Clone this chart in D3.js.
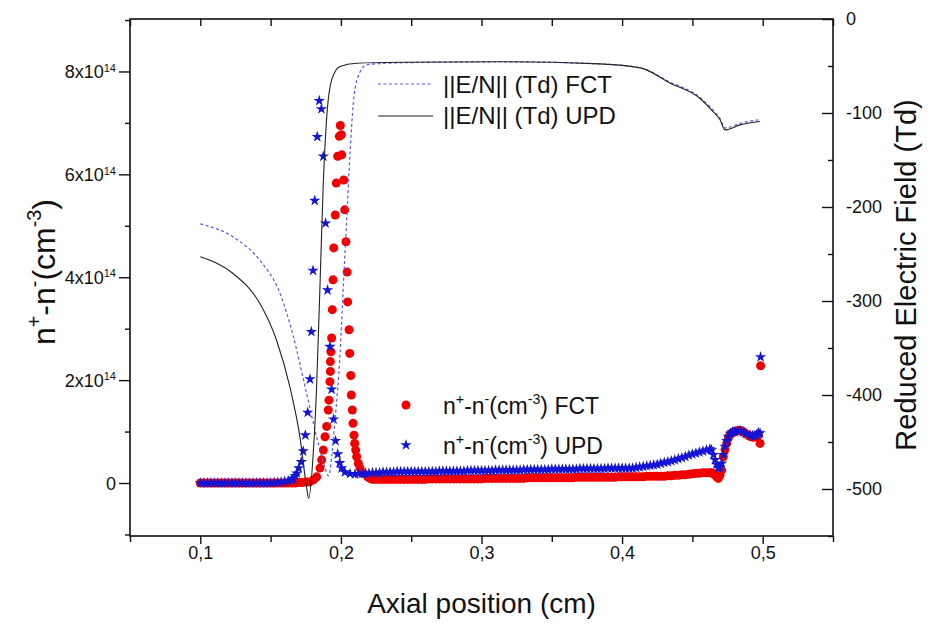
<!DOCTYPE html>
<html><head><meta charset="utf-8">
<script src="https://cdn.jsdelivr.net/npm/d3@7"></script>
<style>
html,body{margin:0;padding:0;background:#fff;}
svg{display:block;font-family:"Liberation Sans",Arial,Helvetica,sans-serif;}
</style></head>
<body><svg id="c" width="931" height="626"></svg>
<script>
// ---------------- DATA ----------------
const xMajorTicks = [0.1, 0.2, 0.3, 0.4, 0.5];
const xMajorLabels = ["0,1", "0,2", "0,3", "0,4", "0,5"];
const xMinorTicks = [0.05, 0.15, 0.25, 0.35, 0.45, 0.55];
const leftMajorTicks = [0, 2, 4, 6, 8];            // x 10^14
const leftMinorTicks = [-1, 1, 3, 5, 7, 9];
const rightMajorTicks = [0, -100, -200, -300, -400, -500];
const rightMajorLabels = ["0", "-100", "-200", "-300", "-400", "-500"];
const rightMinorTicks = [-50, -150, -250, -350, -450, -550];

// Reduced electric field (Td), right axis
const fieldUPD_x = [0.100,0.1235,0.1425,0.1543,0.1638,0.1709,0.1756,0.1771,0.1803,0.1827,0.1851,0.1874,0.1898,0.1934,0.1993,0.2111,0.242,0.313,0.384,0.413,0.434,0.455,0.4647,0.4696,0.4732,0.4839,0.498];
const fieldUPD_v = [-253,-271,-303,-342,-392,-445,-498,-510,-463,-392,-285,-178,-107,-65,-50.5,-47,-46,-45.5,-47.7,-52,-68,-84,-98.5,-107,-118,-112.6,-109];
const fieldFCT_x = [0.100,0.1235,0.1425,0.1567,0.1662,0.1757,0.1828,0.1887,0.1910,0.1958,0.1994,0.2017,0.2041,0.2065,0.2088,0.2123,0.2183,0.242,0.313,0.384,0.413,0.434,0.455,0.4647,0.4696,0.4732,0.4839,0.498];
const fieldFCT_v = [-218,-232,-257,-292,-338,-399,-445,-477,-486,-427,-356,-285,-214,-143,-90,-61,-48.7,-46.6,-45.5,-47.7,-52,-67,-83,-97,-106,-116,-111,-107];

// n+ - n- (x 10^14 cm^-3), FCT (red circles)
const gridStep = 0.0025;
const fctPreStart = 0.100;
const fctPre = [0,0,0,0,0,0,0,0,0,0, 0,0,0,0,0,0,0,0,0,0, 0,0,0,0,0,0,0,0,0.01,0.01,0.02,0.02];
const fctPeak_x = [0.1805,0.1828,0.1851,0.1863,0.1875,0.1887,0.1899,0.1910,0.1915,0.1922,0.1925,0.1925,0.1929,0.1934,0.1939,0.1944,0.1949,0.1960,0.1967,0.1977,0.1989,0.1996,0.2003,0.2006,0.2020,0.2027,0.2036,0.2044,0.2048,0.2058,0.2063,0.2070,0.2074,0.2081,0.2086,0.2093,0.2098,0.2105,0.2112,0.2124,0.2136,0.2159,0.2190,0.2207];
const fctPeak_v = [0.06,0.12,0.29,0.45,0.64,0.90,1.10,1.42,1.61,1.97,2.17,2.36,2.55,2.82,3.37,3.95,4.57,5.21,5.83,6.35,6.74,6.95,6.77,6.38,5.89,5.31,4.69,4.10,3.52,2.98,2.52,2.09,1.71,1.42,1.16,0.93,0.77,0.64,0.51,0.38,0.29,0.19,0.12,0.09];
const fctPostStart = 0.2225;
const fctPost = [0.07,0.07,0.07,0.07,0.07,0.07,0.07,0.07,0.07,0.07,0.07,0.07,0.07,0.07,0.07,0.07,
  0.08,0.08,0.08,0.08,0.08,0.08,0.08,0.08,0.08,0.08,0.08,0.08,0.08,0.08,0.08,0.08,
  0.09,0.09,0.09,0.09,0.09,0.09,0.09,0.09,0.09,0.09,0.09,0.09,
  0.10,0.10,0.10,0.10,0.10,0.10,0.10,0.10,0.10,0.10,0.10,0.10,0.10,0.10,
  0.11,0.11,0.11,0.11,0.11,0.11,0.11,0.11,0.11,0.11,0.11,0.11,
  0.12,0.12,0.12,0.12,0.12,0.12,0.12,0.12,
  0.13,0.13,0.13,0.13,0.13,0.13,
  0.14,0.14,0.15,0.15,0.16,0.16,0.17,0.18,0.19,0.19,0.20,0.20];
const fctEnd_x = [0.4625,0.4637,0.4650,0.4661,0.4672,0.4684,0.4696,0.4708,0.4720,0.4732,0.4744,0.4756,0.4768,0.4779,0.4790,0.4800,0.4815,0.4830,0.4839,0.4850,0.4865,0.4880,0.4897,0.4910,0.4922,0.4933,0.4945,0.4957,0.4969,0.4981,0.4985];
const fctEnd_v = [0.20,0.20,0.18,0.16,0.12,0.09,0.15,0.25,0.51,0.65,0.77,0.88,0.95,0.97,0.99,1.00,1.01,1.02,1.02,1.01,0.99,0.96,0.93,0.91,0.90,0.89,0.90,0.92,0.93,0.77,2.28];

// n+ - n- (x 10^14 cm^-3), UPD (blue stars)
const updPreStart = 0.100;
const updPre = [0,0,0,0,0,0,0,0,0,0, 0,0,0,0,0,0,0,0,0,0, 0,0.01,0.01,0.02,0.03,0.04,0.06];
const updPeak_x = [0.1661,0.1675,0.1686,0.1700,0.1718,0.1732,0.1747,0.1764,0.1780,0.1790,0.1802,0.1814,0.1832,0.1846,0.1861,0.1875,0.1891,0.1905,0.1922,0.1934,0.1948,0.1962,0.1977,0.1991,0.2005,0.2028,0.2065];
const updPeak_v = [0.09,0.14,0.19,0.29,0.41,0.62,0.93,1.37,2.02,2.94,4.13,5.49,6.73,7.43,7.27,6.35,5.05,3.75,2.65,1.82,1.24,0.82,0.56,0.39,0.29,0.21,0.18];
const updPostStart = 0.2100;
const updPost = [0.17,0.18,0.18,0.19,0.19,0.20,0.20,0.20,0.21,0.21,0.21,0.21,0.22,0.22,0.22,0.22,
  0.22,0.22,0.22,0.22,0.22,0.22,0.22,0.22, 0.23,0.23,0.23,0.23,0.23,0.23,0.23,0.23, 0.24,0.24,0.24,0.24,0.24,0.24,0.24,0.24,
  0.25,0.25,0.25,0.25,0.25,0.25,0.25,0.25, 0.26,0.26,0.26,0.26,0.26,0.26,0.26,0.26, 0.27,0.27,0.27,0.27,0.27,0.27,0.27,0.27,
  0.28,0.28,0.28,0.28,0.28,0.28,0.28,0.28, 0.29,0.29,0.29,0.29,0.29,0.29,0.29,0.29,
  0.30,0.31,0.32,0.33,0.34,0.35,0.36,0.38,0.40,0.41,0.43,0.45,0.47,0.49,0.51,0.54,0.56,0.58,0.60,0.62,0.64];
const updEnd_x = [0.4625,0.4637,0.4650,0.4661,0.4672,0.4684,0.4696,0.4708,0.4720,0.4732,0.4744,0.4756,0.4770,0.4785,0.4803,0.4820,0.4839,0.4860,0.4880,0.4910,0.4927,0.4945,0.4957,0.4969,0.4981,0.4985];
const updEnd_v = [0.66,0.64,0.55,0.45,0.36,0.29,0.31,0.38,0.55,0.71,0.82,0.90,0.96,0.99,1.00,1.01,1.02,0.99,0.96,0.93,0.92,0.91,0.94,0.98,0.97,2.45];

const legendLines = ["||E/N|| (Td) FCT", "||E/N|| (Td) UPD"];
const legendMarkers = ["FCT", "UPD"];

// ---------------- BUILD ----------------
const gridSeries = (start, vals) => vals.map((v, i) => ({x: +(start + i * gridStep).toFixed(5), v}));
const pairSeries = (xs, vs) => xs.map((x, i) => ({x, v: vs[i]}));
const fct = [].concat(gridSeries(fctPreStart, fctPre), pairSeries(fctPeak_x, fctPeak_v), gridSeries(fctPostStart, fctPost), pairSeries(fctEnd_x, fctEnd_v));
const upd = [].concat(gridSeries(updPreStart, updPre), pairSeries(updPeak_x, updPeak_v), gridSeries(updPostStart, updPost), pairSeries(updEnd_x, updEnd_v));
const fieldUPD = pairSeries(fieldUPD_x, fieldUPD_v);
const fieldFCT = pairSeries(fieldFCT_x, fieldFCT_v);

const L = 130, R = 833, T = 19, B = 536;
const svg = d3.select("#c");
const x = d3.scaleLinear().domain([0.05, 0.55]).range([L, R]);
const yL = d3.scaleLinear().domain([-1.03, 9.02]).range([B, T]);
const yR = d3.scaleLinear().domain([-550, 0]).range([B, T]);

const FONT = '"Liberation Sans",Arial,Helvetica,sans-serif';

// markers
const RED = "#f00000", BLUE = "#1414d2";
const CR = 4.5;
svg.append("g").selectAll("circle").data(fct).join("circle")
  .attr("cx", d => x(d.x)).attr("cy", d => yL(d.v)).attr("r", CR).attr("fill", RED);
const star = d3.symbol().type(d3.symbolStar).size(40);
svg.append("g").selectAll("path").data(upd).join("path")
  .attr("d", star).attr("transform", d => `translate(${x(d.x)},${yL(d.v)})`).attr("fill", BLUE);

// field lines
const line = d3.line().x(d => x(d.x)).y(d => yR(d.v)).curve(d3.curveMonotoneX);
svg.append("path").datum(fieldFCT).attr("d", line).attr("fill", "none")
  .attr("stroke", "#5a5ae6").attr("stroke-width", 1.2).attr("stroke-dasharray", "3,2.5");
svg.append("path").datum(fieldUPD).attr("d", line).attr("fill", "none")
  .attr("stroke", "#222").attr("stroke-width", 1.1);

// axes
function styleAxis(g) {
  g.select(".domain").remove();
  g.selectAll("line").attr("stroke", "#111").attr("stroke-width", 1.4);
  g.selectAll("text").attr("font-family", FONT).attr("fill", "#111");
}
// bottom
svg.append("g").attr("transform", `translate(0,${B})`)
  .call(d3.axisBottom(x).tickValues(xMajorTicks).tickSize(8).tickPadding(2)
    .tickFormat((d, i) => xMajorLabels[i]))
  .call(styleAxis).call(g => g.selectAll("text").attr("font-size", 18));
svg.append("g").attr("transform", `translate(0,${B})`)
  .call(d3.axisBottom(x).tickValues(xMinorTicks).tickSize(6).tickFormat(""))
  .call(styleAxis);
// top (inward)
svg.append("g").attr("transform", `translate(0,${T})`)
  .call(d3.axisTop(x).tickValues(xMajorTicks.concat(xMinorTicks)).tickSizeInner(-7).tickSizeOuter(0).tickFormat(""))
  .call(styleAxis);
// left
svg.append("g").attr("transform", `translate(${L},0)`)
  .call(d3.axisLeft(yL).tickValues(leftMajorTicks).tickSize(11).tickPadding(4).tickFormat(""))
  .call(styleAxis)
  .call(g => g.selectAll(".tick").each(function(d) {
    const t = d3.select(this).append("text").attr("x", -14).attr("dy", "0.35em")
      .attr("text-anchor", "end").attr("font-family", FONT).attr("font-size", 18).attr("fill", "#111");
    if (d === 0) { t.text("0"); }
    else {
      t.append("tspan").text(d + "x10");
      t.append("tspan").attr("font-size", 11).attr("dy", "-0.6em").text("14");
    }
  }));
svg.append("g").attr("transform", `translate(${L},0)`)
  .call(d3.axisLeft(yL).tickValues(leftMinorTicks).tickSize(5).tickFormat(""))
  .call(styleAxis);
// right (inward ticks)
svg.append("g").attr("transform", `translate(${R},0)`)
  .call(d3.axisRight(yR).tickValues(rightMajorTicks).tickSizeInner(-11).tickSizeOuter(0).tickPadding(13)
    .tickFormat((d, i) => rightMajorLabels[i]))
  .call(styleAxis).call(g => g.selectAll("text").attr("font-size", 18).attr("text-anchor", "start"));
svg.append("g").attr("transform", `translate(${R},0)`)
  .call(d3.axisRight(yR).tickValues(rightMinorTicks).tickSizeInner(-5).tickSizeOuter(0).tickFormat(""))
  .call(styleAxis);

// frame
svg.append("rect").attr("x", L).attr("y", T).attr("width", R - L).attr("height", B - T)
  .attr("fill", "none").attr("stroke", "#111").attr("stroke-width", 1.6);

// axis titles
svg.append("text").attr("x", (L + R) / 2).attr("y", 613).attr("text-anchor", "middle")
  .attr("font-family", FONT).attr("font-size", 28).attr("fill", "#111").text("Axial position (cm)");
svg.append("text").attr("transform", "translate(916,275) rotate(-90)").attr("text-anchor", "middle")
  .attr("font-family", FONT).attr("font-size", 29).attr("fill", "#111").text("Reduced Electric Field (Td)");

function nLabel(sel, fs) {
  const sup = fs * 0.62;
  sel.append("tspan").text("n");
  sel.append("tspan").attr("font-size", sup).attr("dy", -fs * 0.45).text("+");
  sel.append("tspan").attr("dy", fs * 0.45).text("-n");
  sel.append("tspan").attr("font-size", sup).attr("dy", -fs * 0.45).text("-");
  sel.append("tspan").attr("dy", fs * 0.45).text("(cm");
  sel.append("tspan").attr("font-size", sup).attr("dy", -fs * 0.45).text("-3");
  sel.append("tspan").attr("dy", fs * 0.45).text(")");
}
const lt = svg.append("text").attr("transform", "translate(55,272) rotate(-90)").attr("text-anchor", "middle")
  .attr("font-family", FONT).attr("font-size", 32).attr("fill", "#111");
nLabel(lt, 32);

// legend: lines
const lg = svg.append("g");
[[84, 93, "#5a5ae6", "3,2.5", legendLines[0]], [116, 124, "#222", null, legendLines[1]]].forEach(([ly, ty, col, dash, txt]) => {
  const l = lg.append("line").attr("x1", 378).attr("x2", 433).attr("y1", ly).attr("y2", ly)
    .attr("stroke", col).attr("stroke-width", 1.2);
  if (dash) l.attr("stroke-dasharray", dash);
  lg.append("text").attr("x", 443).attr("y", ty).attr("font-family", FONT).attr("font-size", 24)
    .attr("fill", "#111").text(txt);
});
// legend: markers
lg.append("circle").attr("cx", 406).attr("cy", 405).attr("r", CR).attr("fill", RED);
lg.append("path").attr("d", star).attr("transform", "translate(406,445)").attr("fill", BLUE);
[[414, legendMarkers[0]], [454, legendMarkers[1]]].forEach(([ty, suffix]) => {
  const t = lg.append("text").attr("x", 443).attr("y", ty).attr("font-family", FONT).attr("font-size", 23).attr("fill", "#111");
  nLabel(t, 23);
  t.append("tspan").text(" " + suffix);
});
</script></body></html>
